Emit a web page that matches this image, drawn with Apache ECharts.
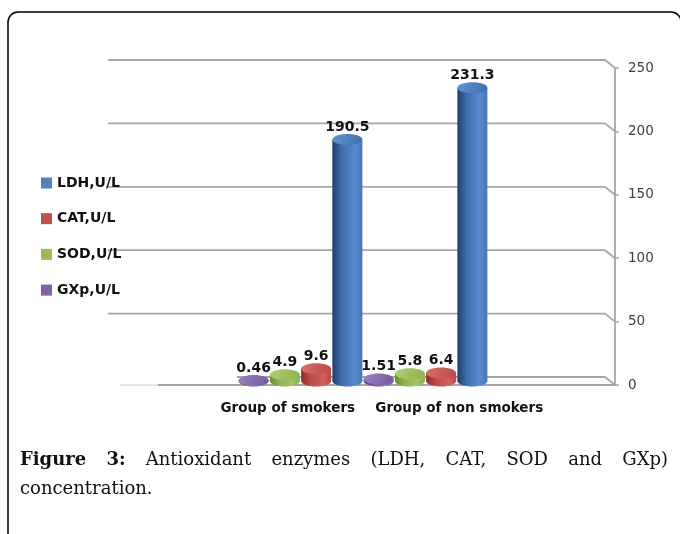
<!DOCTYPE html>
<html>
<head>
<meta charset="utf-8">
<script src="https://cdn.jsdelivr.net/npm/echarts@6/dist/echarts.min.js"></script>
<style>
  html, body { margin: 0; padding: 0; background: #fff; }
  #chart { width: 680px; height: 534px; }
</style>
</head>
<body>
<div id="chart"></div>
<script>
// Groups on the category axis
const groups = ['Group of smokers', 'Group of non smokers'];

// Enzyme series, drawn left to right inside each group
const enzymes = ['GXp,U/L', 'SOD,U/L', 'CAT,U/L', 'LDH,U/L'];
const legendOrder = ['LDH,U/L', 'CAT,U/L', 'SOD,U/L', 'GXp,U/L'];

// Concentrations per group (smokers, non smokers)
const gxp = [0.46, 1.51];
const sod = [4.9, 5.8];
const cat = [9.6, 6.4];
const ldh = [190.5, 231.3];

// Value axis ticks
const yTicks = [0, 50, 100, 150, 200, 250];

// Caption
const captionBold = ['Figure', '3:'];
const captionLine1 = ['Antioxidant', 'enzymes', '(LDH,', 'CAT,', 'SOD', 'and', 'GXp)'];
const captionLine2 = 'concentration.';

const seriesValues = [gxp, sod, cat, ldh];

// Cylinder shading: [edge dark, body, highlight, right edge], plus cap colour
const palettes = [
  { base: '#8064A2', stops: ['#4f3a6e', '#7558a0', '#8a6db3', '#7358a0'], cap: '#9a82bd' },
  { base: '#9BBB59', stops: ['#6b8a2e', '#8fb04c', '#a4c565', '#8eae4d'], cap: '#b0cf72' },
  { base: '#C0504D', stops: ['#8c2e2c', '#bb4845', '#d1615d', '#b84744'], cap: '#d8706c' },
  { base: '#4F81BD', stops: ['#1f3d66', '#3e6eab', '#568bcc', '#4577b8'], cap: '#6393d0' }
];

function hGradient(stops) {
  return {
    type: 'linear', x: 0, y: 0, x2: 1, y2: 0,
    colorStops: [
      { offset: 0, color: stops[0] },
      { offset: 0.3, color: stops[1] },
      { offset: 0.75, color: stops[2] },
      { offset: 1, color: stops[3] }
    ]
  };
}

function cylinderRenderer(k) {
  const pal = palettes[k];
  return function (params, api) {
    const idx = api.value(0);
    const val = api.value(1);
    const base = api.coord([idx, 0]);
    const top = api.coord([idx, val]);
    const slot = api.size([1, 0])[0] / 4;
    const cx = base[0] + (k - 1.5) * slot;
    const rx = slot * 0.48;
    const ry = 5.5;
    const body = hGradient(pal.stops);
    return {
      type: 'group',
      children: [
        { type: 'ellipse', shape: { cx: cx, cy: base[1], rx: rx, ry: ry }, style: { fill: body } },
        { type: 'rect', shape: { x: cx - rx, y: top[1], width: rx * 2, height: base[1] - top[1] }, style: { fill: body } },
        { type: 'ellipse', shape: { cx: cx, cy: top[1], rx: rx, ry: ry },
          style: { fill: { type: 'linear', x: 0, y: 0, x2: 1, y2: 1, colorStops: [
            { offset: 0, color: pal.cap }, { offset: 1, color: pal.stops[1] } ] } } },
        { type: 'text', x: cx, y: top[1] - ry,
          style: { text: String(val), align: 'center', verticalAlign: 'bottom',
                   font: 'bold 14px "DejaVu Sans"', fill: '#111' } }
      ]
    };
  };
}

// 3D frame: back-wall gridlines with a short slant to the value axis, plus the floor edge
function frameRenderer(params, api) {
  const cs = params.coordSys;
  const v = api.value(1);
  const yF = api.coord([0, v])[1];
  const yB = yF - 8;
  const xR = cs.x + cs.width;
  const xStart = v === 0 ? cs.x + 129 : cs.x;
  const children = [
    { type: 'polyline', shape: { points: [[xStart, yB], [xR - 10, yB], [xR, yF]] },
      style: { stroke: '#a6a6a6', lineWidth: 1.8, fill: null } }
  ];
  if (v === 0) {
    children.push({ type: 'line', shape: { x1: cs.x + 50, y1: yF, x2: xR, y2: yF },
      style: { stroke: '#a6a6a6', lineWidth: 1.8 } });
    children.push({ type: 'line', shape: { x1: cs.x + 12, y1: yF, x2: cs.x + 50, y2: yF },
      style: { stroke: '#dedede', lineWidth: 1.5 } });
  }
  return { type: 'group', children: children };
}

// Justified caption line
function captionElements() {
  const ctx = document.createElement('canvas').getContext('2d');
  const fBold = 'bold 18px "DejaVu Serif"';
  const fNorm = '18px "DejaVu Serif"';
  const words = captionBold.map(w => ({ t: w, f: fBold }))
    .concat(captionLine1.map(w => ({ t: w, f: fNorm })));
  let total = 0;
  words.forEach(w => { ctx.font = w.f; w.w = ctx.measureText(w.t).width; total += w.w; });
  const left = 20, right = 668;
  const gap = (right - left - total) / (words.length - 1);
  const els = [];
  let x = left;
  words.forEach(w => {
    els.push({ type: 'text', x: x, y: 460,
      style: { text: w.t, font: w.f, fill: '#111', verticalAlign: 'middle' } });
    x += w.w + gap;
  });
  els.push({ type: 'text', x: left, y: 489,
    style: { text: captionLine2, font: fNorm, fill: '#111', verticalAlign: 'middle' } });
  return els;
}

const chart = echarts.init(document.getElementById('chart'), null, { renderer: 'canvas' });

const barSeries = enzymes.map((name, k) => ({
  type: 'custom',
  name: name,
  xAxisIndex: 1,
  yAxisIndex: 1,
  itemStyle: { color: palettes[k].base },
  renderItem: cylinderRenderer(k),
  data: groups.map((g, i) => [i, seriesValues[k][i]]),
  clip: false,
  z: 3
}));

chart.setOption({
  animation: false,
  backgroundColor: '#fff',
  grid: [
    { left: 108, right: 65, top: 68, bottom: 149 },
    { left: 238, width: 250, top: 64, bottom: 153 },
    { left: 202, width: 343, top: 68, bottom: 149 }
  ],
  xAxis: [
    { type: 'value', gridIndex: 0, min: 0, max: 1, show: false },
    { type: 'category', gridIndex: 1, data: groups, show: false },
    { type: 'category', gridIndex: 2, data: groups,
      axisLine: { show: false }, axisTick: { show: false },
      axisLabel: { interval: 0, hideOverlap: false, margin: 16, fontFamily: 'DejaVu Sans',
                   fontWeight: 'bold', fontSize: 13.5, color: '#111' } }
  ],
  yAxis: [
    { type: 'value', gridIndex: 0, min: 0, max: 250, interval: 50, position: 'right',
      axisLine: { show: true, onZero: false, lineStyle: { color: '#a6a6a6', width: 1.8 } },
      axisTick: { show: true, length: 4, lineStyle: { color: '#a6a6a6', width: 1.5 } },
      axisLabel: { margin: 13, fontFamily: 'DejaVu Sans', fontSize: 13.5, color: '#404040',
                   formatter: v => (yTicks.indexOf(v) >= 0 ? String(v) : '') },
      splitLine: { show: false } },
    { type: 'value', gridIndex: 1, min: 0, max: 250, show: false },
    { type: 'value', gridIndex: 2, min: 0, max: 250, show: false }
  ],
  legend: {
    orient: 'vertical',
    left: 36,
    top: 171,
    icon: 'rect',
    itemWidth: 11,
    itemHeight: 11,
    itemGap: 21.7,
    data: legendOrder,
    textStyle: { fontFamily: 'DejaVu Sans', fontWeight: 'bold', fontSize: 14, color: '#111' }
  },
  series: [
    {
      type: 'custom',
      name: 'frame',
      xAxisIndex: 0,
      yAxisIndex: 0,
      renderItem: frameRenderer,
      data: yTicks.map(v => [0, v]),
      clip: false,
      silent: true,
      z: 1
    }
  ].concat(barSeries),
  graphic: {
    elements: [
      { type: 'rect', shape: { x: 8, y: 12, width: 673, height: 600, r: 10 },
        style: { fill: 'none', stroke: '#000', lineWidth: 1.5 }, z: 0 }
    ].concat(captionElements())
  }
});
</script>
</body>
</html>
